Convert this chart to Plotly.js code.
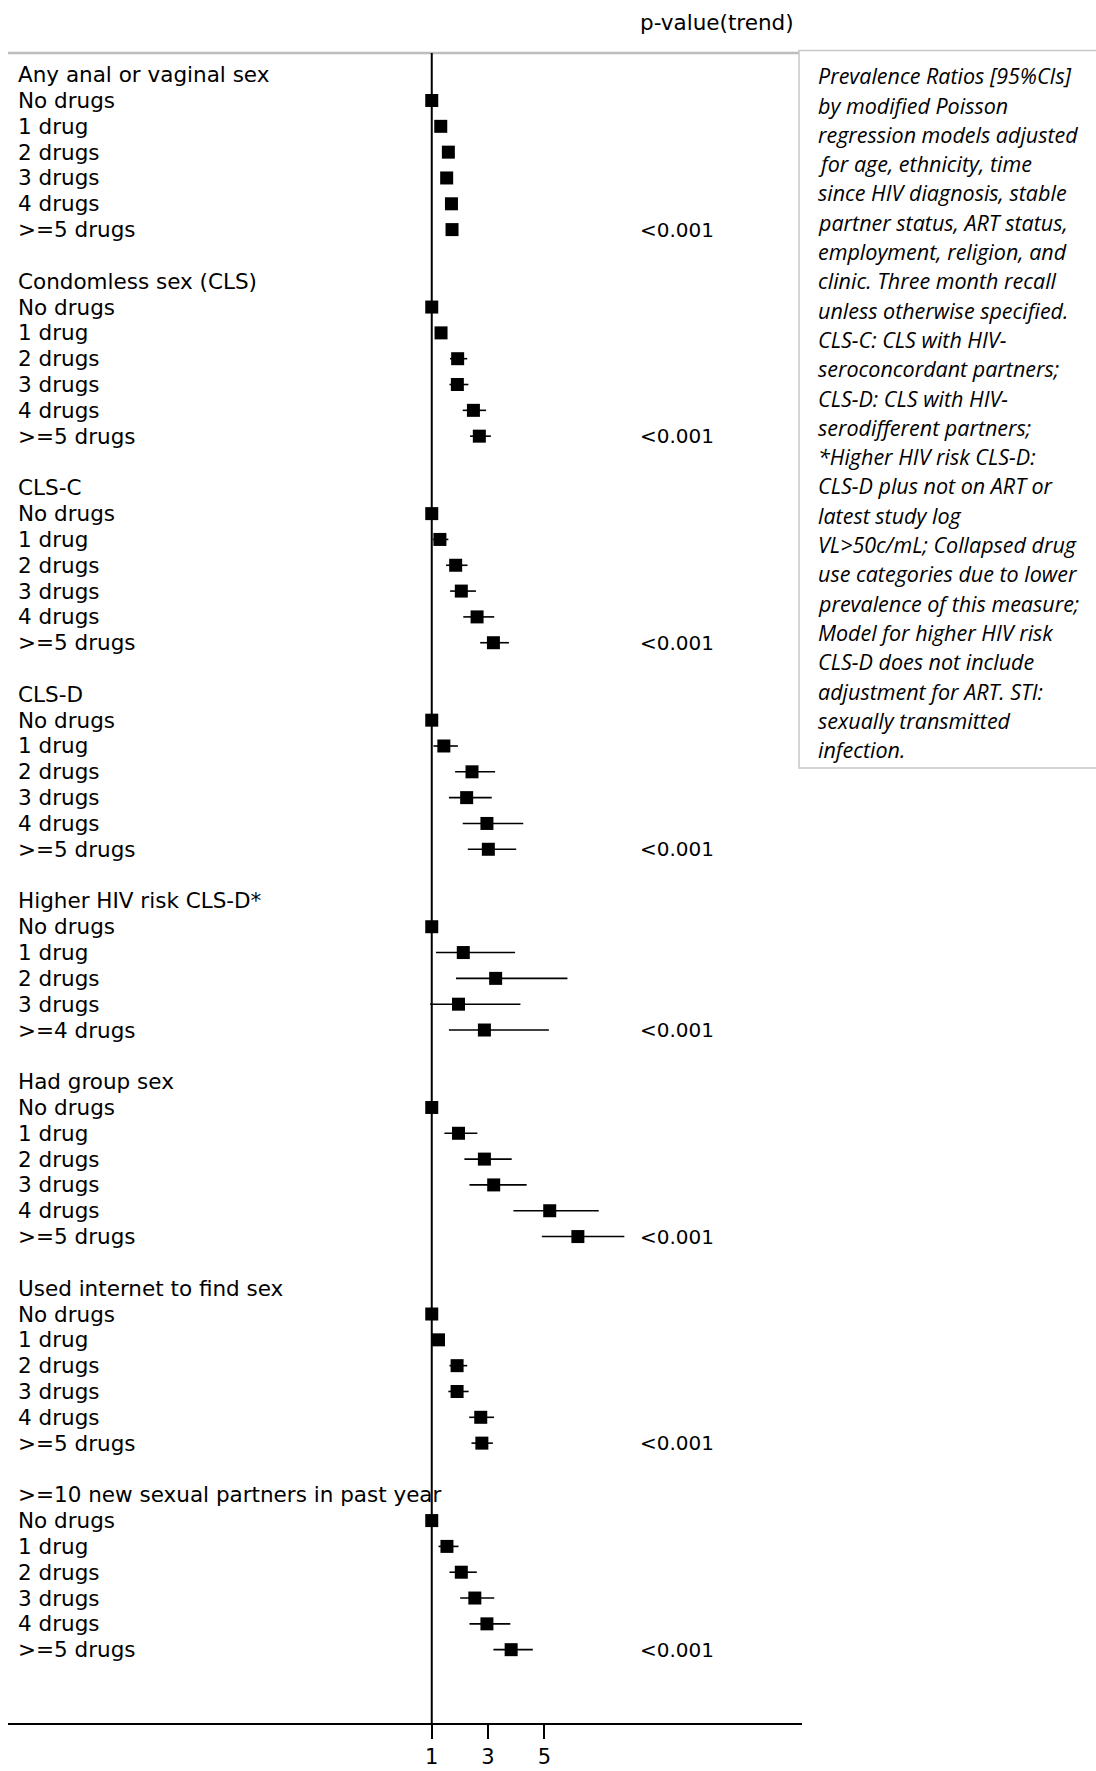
<!DOCTYPE html>
<html>
<head>
<meta charset="utf-8">
<script src="https://cdn.plot.ly/plotly-3.0.1.min.js"></script>
<style>html,body{margin:0;padding:0;background:#fff;}#chart{width:1096px;height:1771px;}</style>
</head>
<body>
<div id="chart"></div>
<script>
// ---- Data ----
const groupNames = [
  "Any anal or vaginal sex",
  "Condomless sex (CLS)",
  "CLS-C",
  "CLS-D",
  "Higher HIV risk CLS-D*",
  "Had group sex",
  "Used internet to find sex",
  ">=10 new sexual partners in past year"
];
const levels6 = ["No drugs", "1 drug", "2 drugs", "3 drugs", "4 drugs", ">=5 drugs"];
const levels5 = ["No drugs", "1 drug", "2 drugs", "3 drugs", ">=4 drugs"];

const anyPR = [1, 1.32, 1.59, 1.53, 1.70, 1.72];
const anyLo = [1, 1.22, 1.49, 1.43, 1.58, 1.60];
const anyHi = [1, 1.42, 1.70, 1.63, 1.82, 1.84];

const clsPR = [1, 1.33, 1.92, 1.91, 2.48, 2.69];
const clsLo = [1, 1.18, 1.65, 1.63, 2.10, 2.36];
const clsHi = [1, 1.49, 2.26, 2.30, 2.93, 3.10];

const clscPR = [1, 1.29, 1.85, 2.05, 2.61, 3.19];
const clscLo = [1, 1.04, 1.51, 1.65, 2.12, 2.72];
const clscHi = [1, 1.59, 2.27, 2.57, 3.22, 3.74];

const clsdPR = [1, 1.43, 2.43, 2.24, 2.96, 3.01];
const clsdLo = [1, 1.06, 1.83, 1.61, 2.10, 2.28];
const clsdHi = [1, 1.93, 3.25, 3.13, 4.25, 4.00];

const riskPR = [1, 2.12, 3.27, 1.95, 2.87];
const riskLo = [1, 1.15, 1.86, 0.94, 1.61];
const riskHi = [1, 3.96, 5.82, 4.15, 5.16];

const groupPR = [1, 1.95, 2.87, 3.20, 5.19, 6.19];
const groupLo = [1, 1.45, 2.16, 2.34, 3.90, 4.91];
const groupHi = [1, 2.62, 3.84, 4.37, 6.93, 7.84];

const netPR = [1, 1.24, 1.90, 1.90, 2.74, 2.78];
const netLo = [1, 1.10, 1.63, 1.59, 2.33, 2.41];
const netHi = [1, 1.38, 2.26, 2.31, 3.21, 3.17];

const partPR = [1, 1.54, 2.05, 2.53, 2.96, 3.82];
const partLo = [1, 1.24, 1.63, 2.01, 2.34, 3.19];
const partHi = [1, 1.95, 2.60, 3.22, 3.79, 4.59];

const pValues = ["<0.001", "<0.001", "<0.001", "<0.001", "<0.001", "<0.001", "<0.001", "<0.001"];
const tickVals = [1, 3, 5];
const tickText = ["1", "3", "5"];
const pHeader = "p-value(trend)";
const noteLines = [
  "Prevalence Ratios [95%CIs]",
  "by modified Poisson",
  "regression models adjusted",
  "for age, ethnicity, time",
  "since HIV diagnosis, stable",
  "partner status, ART status,",
  "employment, religion, and",
  "clinic. Three month recall",
  "unless otherwise specified.",
  "CLS-C: CLS with HIV-",
  "seroconcordant partners;",
  "CLS-D: CLS with HIV-",
  "serodifferent partners;",
  "*Higher HIV risk CLS-D:",
  "CLS-D plus not on ART or",
  "latest study log",
  "VL>50c/mL; Collapsed drug",
  "use categories due to lower",
  "prevalence of this measure;",
  "Model for higher HIV risk",
  "CLS-D does not include",
  "adjustment for ART. STI:",
  "sexually transmitted",
  "infection."
];

const groupLevels = [levels6, levels6, levels6, levels6, levels5, levels6, levels6, levels6];
const groupPRs = [anyPR, clsPR, clscPR, clsdPR, riskPR, groupPR, netPR, partPR];
const groupLos = [anyLo, clsLo, clscLo, clsdLo, riskLo, groupLo, netLo, partLo];
const groupHis = [anyHi, clsHi, clscHi, clsdHi, riskHi, groupHi, netHi, partHi];

// ---- Build ----
const LABEL_FONT = "'DejaVu Sans', sans-serif";
const NOTE_FONT = "'Open Sans', 'Noto Sans', sans-serif";
const LABEL_SIZE = 21.5;
const xs = [], ys = [], ePlus = [], eMinus = [];
const annotations = [];
const labelX = 0.0101;
let row = 0;
groupNames.forEach((g, gi) => {
  annotations.push({xref: "paper", yref: "y", x: labelX, y: row, xanchor: "left", yanchor: "middle",
    text: g, showarrow: false, font: {family: LABEL_FONT, size: LABEL_SIZE, color: "#000"}});
  const lv = groupLevels[gi];
  lv.forEach((l, li) => {
    const r = row + 1 + li;
    annotations.push({xref: "paper", yref: "y", x: labelX, y: r, xanchor: "left", yanchor: "middle",
      text: l, showarrow: false, font: {family: LABEL_FONT, size: LABEL_SIZE, color: "#000"}});
    xs.push(groupPRs[gi][li]);
    ys.push(r);
    ePlus.push(groupHis[gi][li] - groupPRs[gi][li]);
    eMinus.push(groupPRs[gi][li] - groupLos[gi][li]);
    if (li === lv.length - 1) {
      annotations.push({xref: "paper", yref: "y", x: 0.7935, y: r, xanchor: "left", yanchor: "middle",
        text: pValues[gi], showarrow: false, font: {family: "DejaVu Sans", size: 20, color: "#000"}});
    }
  });
  row += lv.length + 2;
});

annotations.push({xref: "paper", yref: "paper", x: 0.7935, y: 1.018, xanchor: "left", yanchor: "middle",
  text: pHeader, showarrow: false, font: {family: LABEL_FONT, size: LABEL_SIZE, color: "#000"}});

const plotTop = 53, plotH = 1670;
noteLines.forEach((t, i) => {
  const ypx = 75.7 + i * 29.3;
  annotations.push({xref: "paper", yref: "paper", x: 1.0173, y: 1 - (ypx - plotTop) / plotH,
    xanchor: "left", yanchor: "middle", text: "<i>" + t + "</i>", showarrow: false,
    font: {family: NOTE_FONT, size: 21.5, color: "#000"}});
});

const trace = {
  type: "scatter", mode: "markers", x: xs, y: ys,
  marker: {symbol: "square", size: 13, color: "#000"},
  error_x: {type: "data", symmetric: false, array: ePlus, arrayminus: eMinus,
    color: "#000", thickness: 1.6, width: 0},
  hoverinfo: "x+y", showlegend: false, cliponaxis: false
};

const layout = {
  width: 1096, height: 1771,
  margin: {l: 8, r: 294, t: 53, b: 48},
  paper_bgcolor: "#fff", plot_bgcolor: "#fff",
  showlegend: false,
  xaxis: {range: [-14.05, 14.15], tickvals: tickVals, ticktext: tickText,
    showline: true, linecolor: "#000", linewidth: 2, ticks: "outside", ticklen: 14,
    tickwidth: 2, tickcolor: "#000", showgrid: false, zeroline: false,
    tickfont: {family: LABEL_FONT, size: 21, color: "#000"}, fixedrange: true},
  yaxis: {range: [63.84, -0.84], visible: false, showgrid: false, zeroline: false, fixedrange: true},
  shapes: [
    {type: "line", xref: "paper", yref: "paper", x0: 0, x1: 0.9962, y0: 1, y1: 1,
      line: {color: "#bdbdbd", width: 2.5}},
    {type: "line", xref: "x", yref: "paper", x0: 1, x1: 1, y0: 0, y1: 1,
      line: {color: "#000", width: 2}},
    {type: "rect", xref: "paper", yref: "paper", x0: 0.9962, x1: 1.38, y0: 1 - (768 - plotTop) / plotH, y1: 1.0015,
      line: {color: "#c8c8c8", width: 1.5}, fillcolor: "rgba(255,255,255,0)"}
  ],
  annotations: annotations
};

Plotly.newPlot("chart", [trace], layout, {displayModeBar: false, staticPlot: true});
</script>
</body>
</html>
